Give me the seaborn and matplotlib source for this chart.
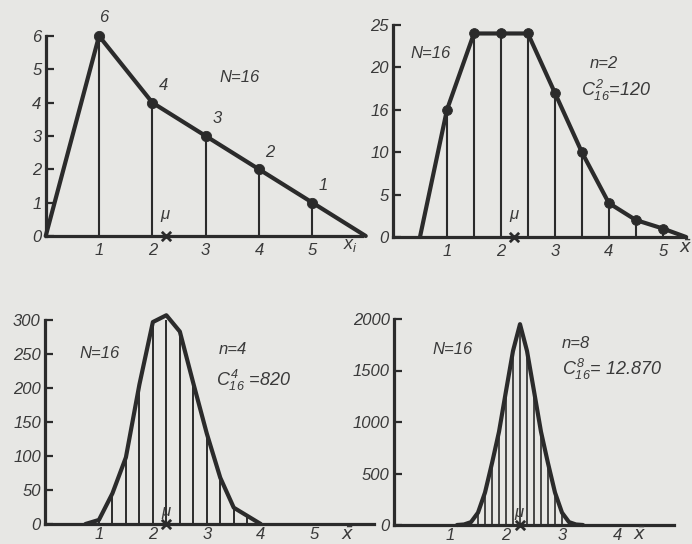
import numpy as np
import pandas as pd
import matplotlib
matplotlib.use("Agg")
import matplotlib.pyplot as plt
import seaborn as sns

# ---------------- data ----------------
x_pop = [0, 1, 2, 3, 4, 5, 6]
f_pop = [0, 6, 4, 3, 2, 1, 0]

x_n2 = [0.5, 1.0, 1.5, 2.0, 2.5, 3.0, 3.5, 4.0, 4.5, 5.0, 5.43]
f_n2 = [0, 15, 24, 24, 24, 17, 10, 4, 2, 1, 0]

x_n4 = [0.75, 1.0, 1.25, 1.5, 1.75, 2.0, 2.25, 2.5, 2.75, 3.0, 3.25, 3.5, 3.75, 4.0]
f_n4 = [0, 6, 45, 98, 205, 297, 307, 283, 207, 133, 68, 24, 12, 0]

x_n8 = [1.125, 1.25, 1.375, 1.5, 1.625, 1.75, 1.875, 2.0, 2.125, 2.25,
        2.375, 2.5, 2.625, 2.75, 2.875, 3.0, 3.125, 3.25, 3.375]
f_n8 = [0, 5, 28, 120, 315, 600, 905, 1300, 1690, 1950,
        1690, 1300, 905, 600, 315, 120, 28, 5, 0]

mu = 2.25

yt1 = [0, 1, 2, 3, 4, 5, 6]
yt2 = [0, 5, 10, 15, 20, 25]
yt2_labels = ["0", "5", "10", "16", "20", "25"]
yt3 = [0, 50, 100, 150, 200, 250, 300]
yt4 = [0, 500, 1000, 1500, 2000]
xt1 = [1, 2, 3, 4, 5]
xt4 = [1, 2, 3, 4]

# ---------------- style ----------------
sns.set_theme(style="white")
plt.rcParams["font.family"] = ["Liberation Sans", "DejaVu Sans"]
plt.rcParams["font.style"] = "italic"
plt.rcParams["mathtext.fontset"] = "custom"
plt.rcParams["mathtext.it"] = "Liberation Sans:italic"
plt.rcParams["mathtext.rm"] = "Liberation Sans:italic"

BG = "#e7e7e4"
INK = "#2b2b2b"
TXT = "#3a3a3a"
FS = 12

W, H = 692, 544
fig = plt.figure(figsize=(W / 100, H / 100), dpi=100, facecolor=BG)


def add_ax(left, right, top, bottom):
    return fig.add_axes([left / W, 1 - bottom / H, (right - left) / W, (bottom - top) / H])


def setup(ax, xlim, ylim, yticks, ylabels, xticks, xpad):
    ax.set_facecolor("none")
    ax.set_xlim(*xlim)
    ax.set_ylim(*ylim)
    for s in ["top", "right"]:
        ax.spines[s].set_visible(False)
    for s in ["left", "bottom"]:
        ax.spines[s].set_linewidth(2.3)
        ax.spines[s].set_color(INK)
    ax.set_yticks(yticks)
    ax.set_yticklabels(ylabels)
    ax.set_xticks(xticks)
    ax.set_xticklabels([str(t) for t in xticks])
    ax.tick_params(axis="y", direction="in", length=6, width=1.6, color=INK,
                   labelsize=FS, labelcolor=TXT, pad=3, left=True)
    ax.tick_params(axis="x", length=0, labelsize=FS, labelcolor=TXT, pad=xpad, bottom=True)
    for lab in ax.get_xticklabels() + ax.get_yticklabels():
        lab.set_fontstyle("italic")
    ax.set_xlabel("")
    ax.set_ylabel("")


def mu_mark(ax, dy):
    ax.scatter([mu], [0], marker="x", s=45, color=INK, linewidths=2.0,
               clip_on=False, zorder=6)
    ax.annotate(r"$\mu$", (mu, 0), xytext=(0, dy), textcoords="offset points",
                ha="center", va="bottom", fontsize=FS, color=TXT)


def ftxt(x, y, s, size=FS):
    fig.text(x / W, 1 - y / H, s, ha="center", va="center", fontsize=size,
             color=TXT, fontstyle="italic")


def xbar(x, y):
    fig.text(x / W, 1 - y / H, "x\u0304", ha="center", va="center", fontsize=FS + 1,
             color=TXT, fontstyle="italic", family=["DejaVu Sans"])


# ---------------- panel 1 ----------------
ax1 = add_ax(45.7, 362, 36, 236)
d1 = pd.DataFrame({"x": x_pop, "f": f_pop})
ax1.vlines(d1.x[1:-1], 0, d1.f[1:-1], color=INK, lw=1.5, zorder=2)
sns.lineplot(data=d1, x="x", y="f", ax=ax1, color=INK, lw=3.0, clip_on=False,
             zorder=4, solid_joinstyle="round")
sns.scatterplot(data=d1.iloc[1:-1], x="x", y="f", ax=ax1, color=INK, s=55,
                edgecolor=INK, clip_on=False, zorder=5)
for xv, fv in zip(x_pop[1:-1], f_pop[1:-1]):
    off = (3, 8) if fv == max(f_pop) else (8, 7)
    ax1.annotate(str(fv), (xv, fv), xytext=off, textcoords="offset points",
                 ha="center", va="bottom", fontsize=FS, color=TXT)
setup(ax1, (0, 5.93), (0, 6), yt1, [str(t) for t in yt1], xt1, 5)
mu_mark(ax1, 9)
ftxt(240, 78, "N=16")
fig.text(350 / W, 1 - 245 / H, r"$x_i$", ha="center", va="center", fontsize=FS + 1, color=TXT)

# ---------------- panel 2 ----------------
ax2 = add_ax(393, 686, 25, 237)
d2 = pd.DataFrame({"x": x_n2, "f": f_n2})
ax2.vlines(d2.x[1:-1], 0, d2.f[1:-1], color=INK, lw=1.5, zorder=2)
sns.lineplot(data=d2, x="x", y="f", ax=ax2, color=INK, lw=3.0, clip_on=False,
             zorder=4, solid_joinstyle="round")
sns.scatterplot(data=d2.iloc[1:-1], x="x", y="f", ax=ax2, color=INK, s=50,
                edgecolor=INK, clip_on=False, zorder=5)
setup(ax2, (0, 5.43), (0, 25), yt2, yt2_labels, xt1, 5)
mu_mark(ax2, 9)
ftxt(431, 53, "N=16")
ftxt(604, 63, "n=2")
ftxt(616, 90, r"$C_{16}^{2}$=120", FS + 1)
xbar(685, 247)

# ---------------- panel 3 ----------------
ax3 = add_ax(45, 374, 320, 524)
d3 = pd.DataFrame({"x": x_n4, "f": f_n4})
ax3.vlines(d3.x[1:-1], 0, d3.f[1:-1], color=INK, lw=1.4, zorder=2)
sns.lineplot(data=d3, x="x", y="f", ax=ax3, color=INK, lw=3.0, clip_on=False,
             zorder=4, solid_joinstyle="round")
setup(ax3, (0, 6.1), (0, 300), yt3, [str(t) for t in yt3], xt1, 2)
mu_mark(ax3, 2)
ftxt(100, 354, "N=16")
ftxt(233, 350, "n=4")
ftxt(253, 380, r"$C_{16}^{4}$ =820", FS + 1)
xbar(347, 534)

# ---------------- panel 4 ----------------
ax4 = add_ax(394, 674, 319, 525)
d4 = pd.DataFrame({"x": x_n8, "f": f_n8})
ax4.vlines(d4.x[2:-2], 0, d4.f[2:-2], color=INK, lw=1.2, zorder=2)
sns.lineplot(data=d4, x="x", y="f", ax=ax4, color=INK, lw=3.0, clip_on=False,
             zorder=4, solid_joinstyle="round")
setup(ax4, (0, 5.0), (0, 2000), yt4, [str(t) for t in yt4], xt4, 2)
mu_mark(ax4, 2)
ftxt(453, 350, "N=16")
ftxt(576, 344, "n=8")
ftxt(612, 369, r"$C_{16}^{8}$= 12.870", FS + 1)
xbar(639, 534)

fig.savefig("out.png", dpi=100, facecolor=BG)
